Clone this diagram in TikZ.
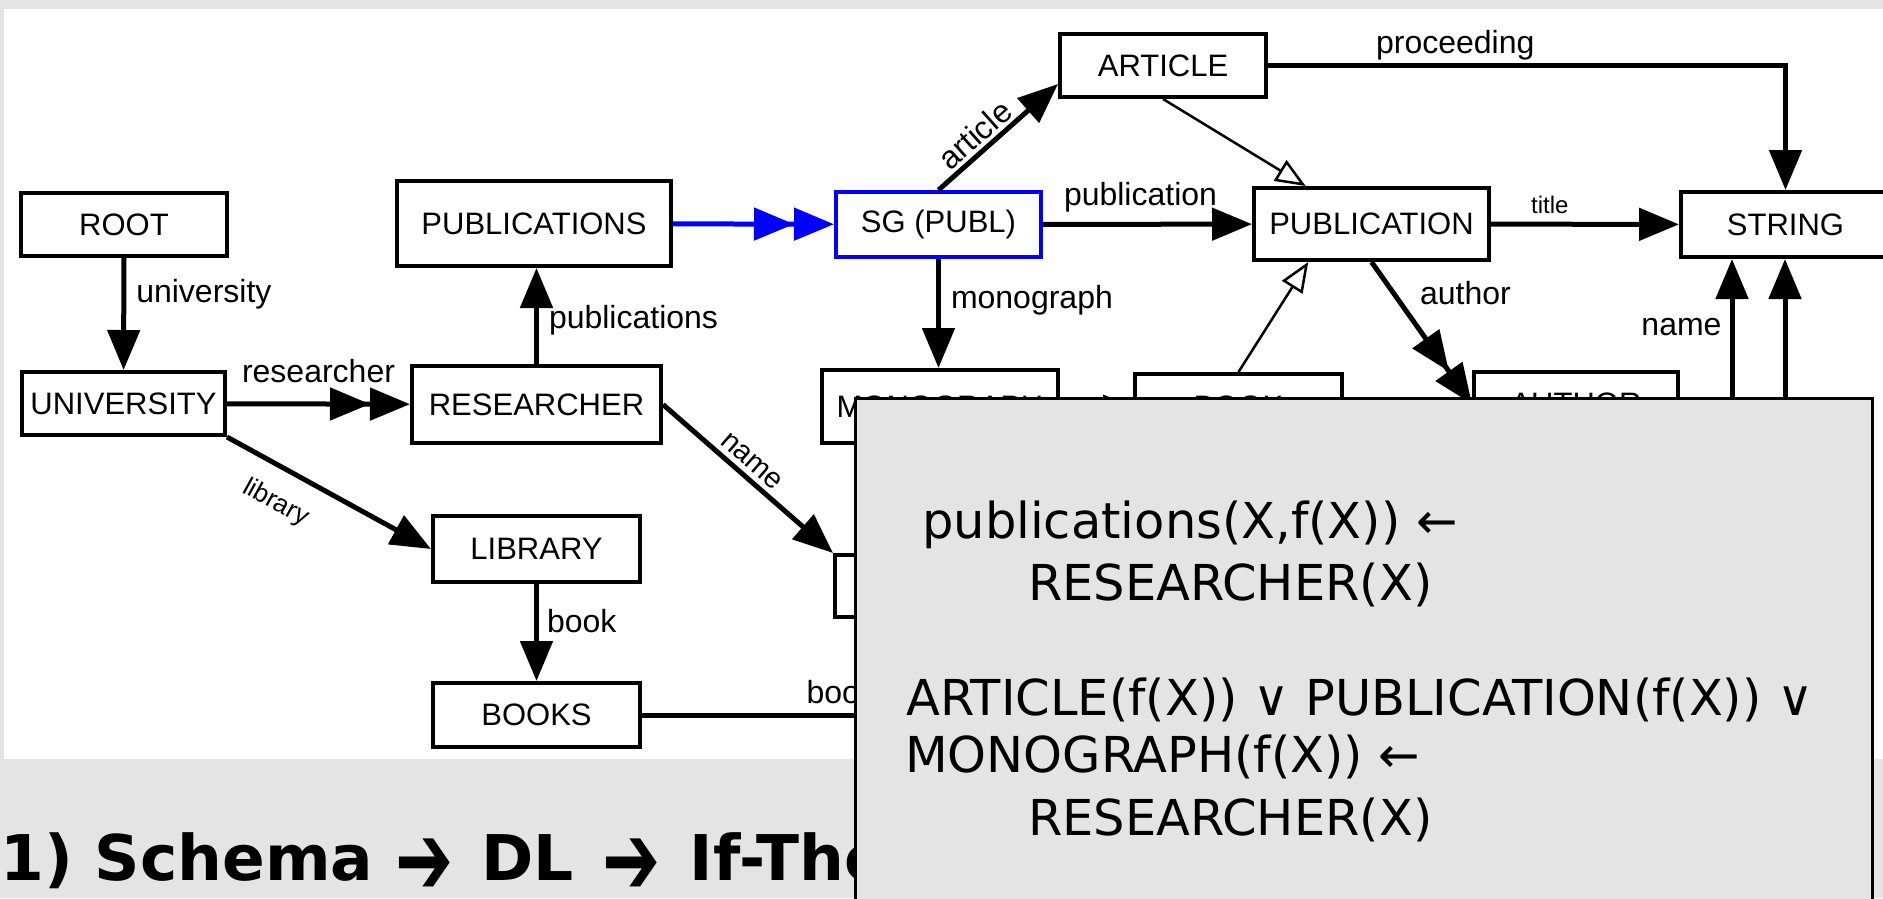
\documentclass[tikz,border=0pt]{standalone}
\usepackage{fontspec}
\setmainfont{Liberation Sans}
\newfontfamily\verdanafont{DejaVu Sans}
\usetikzlibrary{arrows.meta,positioning}
\tikzset{>={Triangle[length=40pt,width=32pt]}}
\definecolor{slidegray}{RGB}{228,228,228}
\newcommand{\titlearrow}{\raisebox{-14pt}{\scalebox{1.1}[1.6]{\mdseries ➔}}}

\begin{document}
\begin{tikzpicture}[x=1pt,y=-1pt,
                    entity/.style={draw, line width=4pt, inner sep=0pt, font=\fontsize{31}{36}\selectfont},
                    rel/.style={line width=5pt, ->},
                    isa/.style={line width=2.5pt, -{Triangle[open,length=30pt,width=24pt]}},
                    lab/.style={inner sep=0pt, font=\fontsize{32}{38}\selectfont},
                    rule/.style={anchor=base west, inner sep=0pt, font=\verdanafont\fontsize{49.5}{58}\selectfont},
                   ]

\clip (0,0) rectangle (1883,898);
\fill[slidegray] (0,0) rectangle (1883,898);
\fill[white] (4,9) rectangle (1883,759);

% schema graph
\node[entity, minimum width=206pt, minimum height=63pt] (ROOT) at (124,224.5) {ROOT};
\node[entity, minimum width=203pt, minimum height=63pt] (UNIVERSITY) at (123.5,403.5) {UNIVERSITY};
\node[entity, minimum width=274pt, minimum height=85pt] (PUBLICATIONS) at (534,223.5) {PUBLICATIONS};
\node[entity, minimum width=249pt, minimum height=77pt] (RESEARCHER) at (536.5,404.5) {RESEARCHER};
\node[entity, draw=blue, minimum width=205pt, minimum height=65pt] (SG) at (938.5,224.5) {SG (PUBL)};
\node[entity, minimum width=206pt, minimum height=63pt] (ARTICLE) at (1163,65.5) {ARTICLE};
\node[entity, minimum width=235pt, minimum height=72pt] (PUBLICATION) at (1371.5,224) {PUBLICATION};
\node[entity, minimum width=209pt, minimum height=65pt] (STRING) at (1785.5,224.5) {STRING};
\node[entity, minimum width=236pt, minimum height=73pt] (MONOGRAPH) at (940,406.5) {MONOGRAPH};
\node[entity, minimum width=207pt, minimum height=66pt] (BOOK) at (1238.5,407) {BOOK};
\node[entity, minimum width=204pt, minimum height=64pt] (AUTHOR) at (1576,404) {AUTHOR};
\node[entity, minimum width=207pt, minimum height=66pt] (LIBRARY) at (536.5,549) {LIBRARY};
\node[entity, minimum width=207pt, minimum height=64pt] (BOOKS) at (536.5,715) {BOOKS};
\node[entity, minimum width=205pt, minimum height=62pt] (PERSON) at (937.5,586) {};

\coordinate (bookend) at (1100,715);
\coordinate (nm1) at (1732,430);
\coordinate (nm2) at (1785,430);

\draw[rel] (ROOT) -- (UNIVERSITY) node[lab, pos=0.4, anchor=base west, xshift=10pt]{university};
\draw[rel, ->>] (UNIVERSITY) -- (RESEARCHER) node[lab, midway, anchor=base, yshift=21pt]{researcher};
\draw[rel] (RESEARCHER.north) -- (RESEARCHER.north |- PUBLICATIONS.south) node[lab, pos=0.365, anchor=base west, xshift=10pt]{publications};
\draw[rel, ->>, blue] (PUBLICATIONS) -- (SG);
\draw[rel] (SG.north) -- (ARTICLE.190) node[lab, pos=0.4, sloped, above=3pt]{article};
\draw[rel] (SG) -- (PUBLICATION) node[lab, midway, anchor=base, yshift=19pt, xshift=-7pt]{publication};
\draw[rel] (SG.south) -- (SG.south |- MONOGRAPH.north) node[lab, pos=0.45, anchor=base west, xshift=10pt]{monograph};
\draw[rel] (ARTICLE.east) -| (STRING.north) node[lab, pos=0.102, anchor=base west, yshift=12pt]{proceeding};
\draw[isa] (ARTICLE.south) -- (PUBLICATION.150);
\draw[isa] (BOOK.north) -- (PUBLICATION.211);
\draw[isa] (MONOGRAPH) -- (BOOK);
\draw[rel] (PUBLICATION) -- (STRING) node[lab, pos=0.2, anchor=base west, yshift=11pt, font=\fontsize{24}{28}\selectfont]{title};
\draw[rel, ->>] (PUBLICATION.south) -- (AUTHOR.west) node[lab, pos=0.3, anchor=base west, xshift=16pt]{author};
\draw[rel] (nm1) -- (nm1 |- STRING.south) node[lab, pos=0.55, anchor=base east, xshift=-8pt]{name};
\draw[rel] (nm2) -- (nm2 |- STRING.south);
\draw[rel] (UNIVERSITY.south east) -- (LIBRARY.west) node[lab, pos=0.32, sloped, below=20pt, font=\fontsize{26}{30}\selectfont]{library};
\draw[rel] (RESEARCHER.east) -- (PERSON.north west) node[lab, pos=0.46, sloped, above=5pt, font=\fontsize{29}{33}\selectfont]{name};
\draw[rel] (LIBRARY) -- (BOOKS) node[lab, pos=0.5, anchor=base west, xshift=8pt]{book};
\draw[rel] (BOOKS) -- (bookend) node[lab, pos=0.354, anchor=base west, yshift=12pt]{book};

% slide title and rules box
\node[anchor=base west, inner sep=0pt, font=\verdanafont\bfseries\fontsize{63}{72}\selectfont] (title) at (0,880)
  {1) Schema\hspace{22pt}\titlearrow\hspace{28pt}DL\hspace{29pt}\titlearrow\hspace{29pt}If-The};

\draw[line width=3pt, fill=slidegray] (855,398) rectangle (1872,910);

\node[rule] (r1) at (922,538) {publications(X,f(X)) ←};
\node[rule] (r2) at (1028,600) {RESEARCHER(X)};
\node[rule] (r3) at (906,715) {ARTICLE(f(X)) ∨ PUBLICATION(f(X)) ∨};
\node[rule] (r4) at (905,772) {MONOGRAPH(f(X)) ←};
\node[rule] (r5) at (1028,835) {RESEARCHER(X)};

\end{tikzpicture}
\end{document}
